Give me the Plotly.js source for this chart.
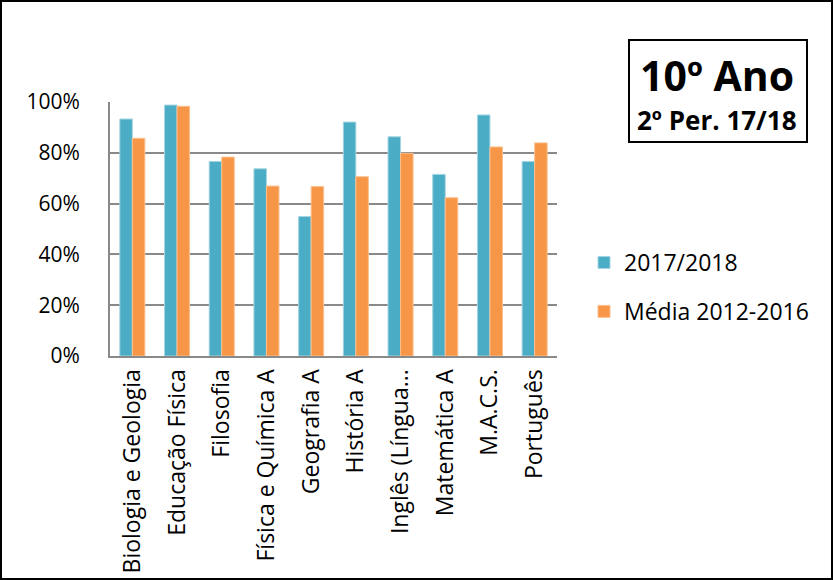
<!DOCTYPE html>
<html><head><meta charset="utf-8">
<script src="https://cdn.plot.ly/plotly-3.0.1.min.js"></script>
<style>body{margin:0;padding:0;}#c{width:833px;height:580px;}</style>
</head><body><div id="c"></div>
<script>
const categories = ["Biologia e Geologia","Educação Física","Filosofia","Física e Química A","Geografia A","História A","Inglês (Língua...","Matemática A","M.A.C.S.","Português"];
const series2017 = [0.933,0.988,0.766,0.737,0.549,0.921,0.863,0.715,0.949,0.766];
const seriesMedia = [0.857,0.983,0.783,0.669,0.667,0.706,0.798,0.623,0.823,0.839];
const yTicks = [0,0.2,0.4,0.6,0.8,1.0];
const yTickText = ["0%","20%","40%","60%","80%","100%"];

const L=110, R=557, T=102, B=356, W=833, H=580;
const px = x => (x-L)/(R-L);
const py = y => (B-y)/(B-T);
const font = "Open Sans, Liberation Sans, sans-serif";

const traces = [
  {type:'bar', x:categories, y:series2017, name:'2017/2018', legendgroup:'a',
   marker:{color:'#4BACC6', line:{color:'#A5D5E2', width:1}}},
  {type:'bar', x:categories, y:seriesMedia, name:'Média 2012-2016', legendgroup:'b',
   marker:{color:'#F79646', line:{color:'#FAC090', width:1}}}
];

const layout = {
  width:W, height:H,
  margin:{l:L, r:W-R, t:T, b:H-B, pad:0},
  paper_bgcolor:'#ffffff', plot_bgcolor:'#ffffff',
  barmode:'group', bargap:0.44, bargroupgap:0,
  font:{family:font, size:16, color:'#000'},
  xaxis:{tickangle:-90, showgrid:false, showline:true, linecolor:'#898989', linewidth:2,
         ticks:'', ticklabelstandoff:2, tickfont:{size:23, family:font}, automargin:false},
  yaxis:{range:[0,1], tickvals:yTicks, ticktext:yTickText, showgrid:true, gridcolor:'#898989', gridwidth:2,
         showline:true, linecolor:'#898989', linewidth:2, zeroline:false, ticks:'',
         ticklabelstandoff:24, tickfont:{size:21, family:font}, automargin:false},
  showlegend:true,
  legend:{x:px(584), y:py(241), xanchor:'left', yanchor:'top', traceorder:'grouped', tracegroupgap:16,
          font:{size:23, family:font}, bgcolor:'rgba(0,0,0,0)', itemwidth:30},
  shapes:[
    {type:'rect', xref:'paper', yref:'paper', x0:px(629), x1:px(807), y0:py(142), y1:py(40),
     line:{color:'#000', width:2}},
    {type:'rect', xref:'paper', yref:'paper', x0:px(1), x1:px(832), y0:py(579), y1:py(1),
     line:{color:'#000', width:2}}
  ],
  annotations:[
    {xref:'paper', yref:'paper', x:px(717), y:py(75), xanchor:'center', yanchor:'middle',
     text:'<b>10º Ano</b>', showarrow:false, font:{size:41, family:font}},
    {xref:'paper', yref:'paper', x:px(717), y:py(120), xanchor:'center', yanchor:'middle',
     text:'<b>2º Per. 17/18</b>', showarrow:false, font:{size:26, family:font}}
  ]
};
Plotly.newPlot('c', traces, layout, {displayModeBar:false, staticPlot:true});
</script></body></html>
